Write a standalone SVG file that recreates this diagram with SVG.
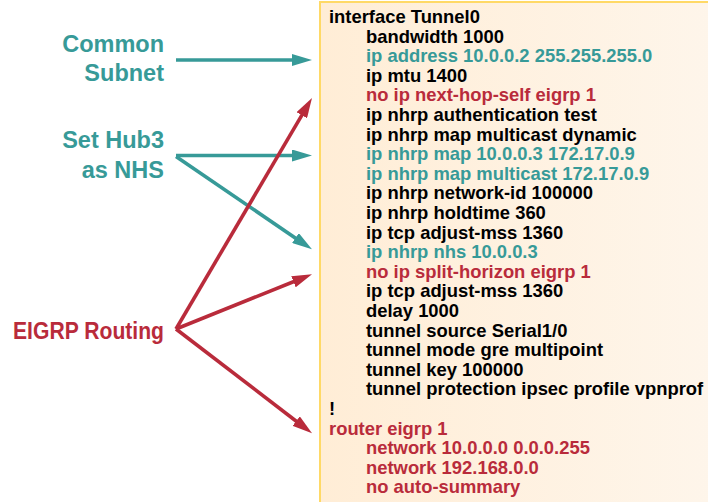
<svg xmlns="http://www.w3.org/2000/svg" width="708" height="502" viewBox="0 0 708 502">
<style>
.lbl{font-family:"Liberation Sans",Arial,sans-serif;font-weight:bold;font-size:23.5px;text-anchor:end}
.code{font-family:"Liberation Sans",Arial,sans-serif;font-weight:bold;font-size:18.4px}
.k{fill:#000}
.t{fill:#379A98}
.r{fill:#B92B3B}
.at{stroke:#379A98;stroke-width:3.6;fill:none}
.ar{stroke:#B92B3B;stroke-width:3.6;fill:none}
</style>
<defs>
<linearGradient id="bg" x1="0" y1="0" x2="1" y2="0">
<stop offset="0" stop-color="#FFEDD6"/>
<stop offset="1" stop-color="#FEF6EC"/>
</linearGradient>
<marker id="mt" viewBox="0 0 20 12" markerWidth="20" markerHeight="12" refX="10" refY="6" orient="auto" markerUnits="userSpaceOnUse">
<path d="M0,0 L20,6 L0,12 Z" fill="#379A98"/>
</marker>
<marker id="mr" viewBox="0 0 20 12" markerWidth="20" markerHeight="12" refX="10" refY="6" orient="auto" markerUnits="userSpaceOnUse">
<path d="M0,0 L20,6 L0,12 Z" fill="#B92B3B"/>
</marker>
</defs>
<rect width="708" height="502" fill="#fff"/>
<g id="config">
<rect x="320" y="2" width="420" height="520" fill="url(#bg)" stroke="#FFD966" stroke-width="2"/>
<g class="code">
<text class="k" x="329" y="23">interface Tunnel0</text>
<text class="k" x="366" y="42.6">bandwidth 1000</text>
<text class="t" x="366" y="62.2">ip address 10.0.0.2 255.255.255.0</text>
<text class="k" x="366" y="81.8">ip mtu 1400</text>
<text class="r" x="366" y="101.4">no ip next-hop-self eigrp 1</text>
<text class="k" x="366" y="121">ip nhrp authentication test</text>
<text class="k" x="366" y="140.6">ip nhrp map multicast dynamic</text>
<text class="t" x="366" y="160.2">ip nhrp map 10.0.0.3 172.17.0.9</text>
<text class="t" x="366" y="179.8">ip nhrp map multicast 172.17.0.9</text>
<text class="k" x="366" y="199.4">ip nhrp network-id 100000</text>
<text class="k" x="366" y="219">ip nhrp holdtime 360</text>
<text class="k" x="366" y="238.6">ip tcp adjust-mss 1360</text>
<text class="t" x="366" y="258.2">ip nhrp nhs 10.0.0.3</text>
<text class="r" x="366" y="277.8">no ip split-horizon eigrp 1</text>
<text class="k" x="366" y="297.4">ip tcp adjust-mss 1360</text>
<text class="k" x="366" y="317">delay 1000</text>
<text class="k" x="366" y="336.6">tunnel source Serial1/0</text>
<text class="k" x="366" y="356.2">tunnel mode gre multipoint</text>
<text class="k" x="366" y="375.8">tunnel key 100000</text>
<text class="k" x="366" y="395.4">tunnel protection ipsec profile vpnprof</text>
<text class="k" x="329" y="415">!</text>
<text class="r" x="329" y="434.6">router eigrp 1</text>
<text class="r" x="366" y="454.2">network 10.0.0.0 0.0.0.255</text>
<text class="r" x="366" y="473.8">network 192.168.0.0</text>
<text class="r" x="366" y="493.4">no auto-summary</text>
</g>
</g>
<g id="common-subnet">
<text class="lbl t" x="164" y="52">Common</text>
<text class="lbl t" x="164" y="81">Subnet</text>
</g>
<g id="set-hub3">
<text class="lbl t" x="164" y="148">Set Hub3</text>
<text class="lbl t" x="164" y="177.5">as NHS</text>
</g>
<g id="eigrp-routing">
<text class="lbl r" x="164" y="339" textLength="151" lengthAdjust="spacingAndGlyphs">EIGRP Routing</text>
</g>
<g id="connectors">
<line class="at" x1="176" y1="60" x2="302" y2="60" marker-end="url(#mt)"/>
<line class="at" x1="176" y1="155.5" x2="302" y2="155.5" marker-end="url(#mt)"/>
<line class="at" x1="176" y1="156.5" x2="303.7" y2="243.7" marker-end="url(#mt)"/>
<line class="ar" x1="176" y1="329" x2="306.9" y2="106.6" marker-end="url(#mr)"/>
<line class="ar" x1="176" y1="329" x2="302.7" y2="278" marker-end="url(#mr)"/>
<line class="ar" x1="176" y1="329" x2="304.1" y2="427.2" marker-end="url(#mr)"/>
</g>
</svg>
